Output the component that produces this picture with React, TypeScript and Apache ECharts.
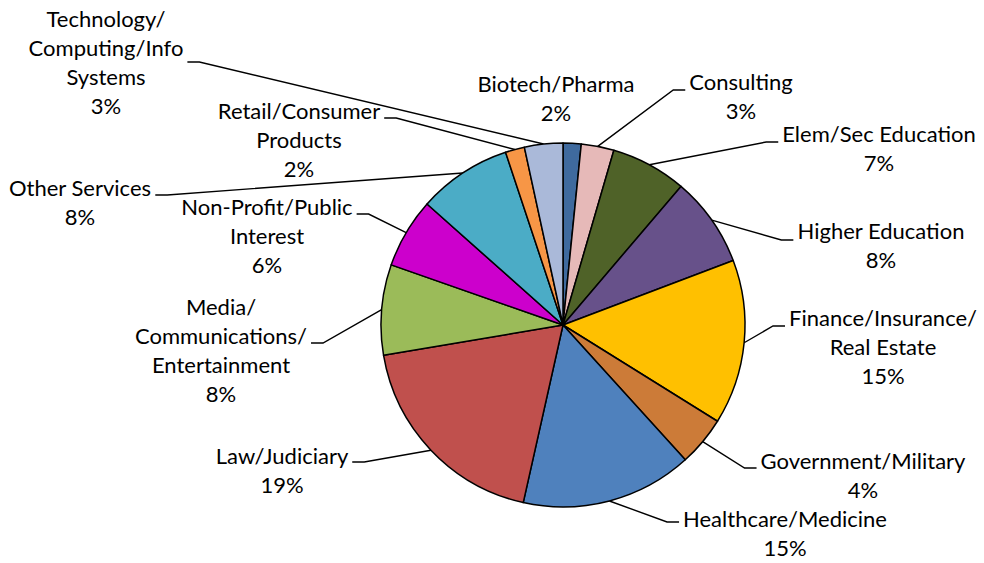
import React, { useEffect, useRef } from "react";
import * as echarts from "echarts";

// ---- data ----
const categories = [
  "Biotech/Pharma",
  "Consulting",
  "Elem/Sec Education",
  "Higher Education",
  "Finance/Insurance/Real Estate",
  "Government/Military",
  "Healthcare/Medicine",
  "Law/Judiciary",
  "Media/Communications/Entertainment",
  "Non-Profit/Public Interest",
  "Other Services",
  "Retail/Consumer Products",
  "Technology/Computing/Info Systems",
];
const values = [1.6, 2.9, 6.7, 8.0, 14.6, 4.4, 15.2, 18.8, 8.0, 6.2, 8.3, 1.7, 3.4];

// ---- presentation ----
const labelText = [
  "Biotech/Pharma",
  "Consulting",
  "Elem/Sec Education",
  "Higher Education",
  "Finance/Insurance/\nReal Estate",
  "Government/Military",
  "Healthcare/Medicine",
  "Law/Judiciary",
  "Media/\nCommunications/\nEntertainment",
  "Non-Profit/Public\nInterest",
  "Other Services",
  "Retail/Consumer\nProducts",
  "Technology/\nComputing/Info\nSystems",
];
const colors = [
  "#3F6A9E",
  "#E6B9B8",
  "#4F6228",
  "#67518A",
  "#FFC000",
  "#CC7B38",
  "#4F81BD",
  "#C0504D",
  "#9BBB59",
  "#CC00CC",
  "#4BACC6",
  "#F79646",
  "#AAB9D9",
];
// label placement: centre x, first-line centre y, leader attach y (null = no leader)
const labelX = [556, 741, 879, 881, 883, 863, 785, 282, 221, 267, 80, 299, 106];
const labelY = [85, 83, 135, 232, 319, 462, 520, 457, 308, 208, 189, 112, 20];
const attachY: (number | null)[] = [null, 90, 142, 240, 326, 468, 522, 462, 343, 214, 195, 118, 62];

const LINE_H = 29;
const TEXT_SHIFT = -1.5;
const GAP = 4;
const ELBOW = 12;
const FONT = 22;

export default function App() {
  const ref = useRef<HTMLDivElement>(null);
  useEffect(() => {
    if (!ref.current) return;
    const chart = echarts.init(ref.current, null, { renderer: "svg" });
    const total = values.reduce((a, b) => a + b, 0);
    const cx = 563;
    const cy = 325;
    const R = 182;
    chart.setOption({
      animation: false,
      backgroundColor: "#ffffff",
      series: [
        {
          type: "pie",
          center: [cx, cy],
          radius: R,
          startAngle: 90,
          clockwise: true,
          avoidLabelOverlap: false,
          itemStyle: { borderColor: "#000000", borderWidth: 1.5 },
          label: {
            show: true,
            position: "outside",
            overflow: "none",
            color: "#000000",
            fontFamily: "Lato",
            fontSize: FONT,
            lineHeight: LINE_H,
            align: "center",
            formatter: (p: any) =>
              `${labelText[p.dataIndex]}\n${Math.round((p.value / total) * 100)}%`,
          },
          labelLine: {
            show: true,
            length: 20,
            length2: 10,
            lineStyle: { color: "#000000", width: 1.4 },
          },
          labelLayout: (params: any) => {
            const i = params.dataIndex;
            const x = labelX[i];
            const res: any = {
              x,
              y: labelY[i] - LINE_H / 2 + TEXT_SHIFT,
              align: "center",
              verticalAlign: "top",
            };
            const ay = attachY[i];
            if (ay != null) {
              let anchor = params.labelLinePoints && params.labelLinePoints[0];
              if (!anchor) {
                let cum = 0;
                for (let k = 0; k < i; k++) cum += values[k];
                const a = ((cum + values[i] / 2) / total) * Math.PI * 2;
                anchor = [cx + R * Math.sin(a), cy - R * Math.cos(a)];
              }
              const half = params.labelRect.width / 2 + GAP;
              const right = anchor[0] < x;
              const endX = right ? x - half : x + half;
              const elbowX = right ? endX - ELBOW : endX + ELBOW;
              res.labelLinePoints = [
                [anchor[0], anchor[1]],
                [elbowX, ay],
                [endX, ay],
              ];
            }
            return res;
          },
          data: categories.map((name, i) => ({
            name,
            value: values[i],
            itemStyle: { color: colors[i] },
            labelLine: attachY[i] == null ? { show: false } : undefined,
          })),
        },
      ],
    });
    return () => chart.dispose();
  }, []);
  return (
    <div
      ref={ref}
      style={{ position: "fixed", left: 0, top: 0, width: 984, height: 563 }}
    />
  );
}
